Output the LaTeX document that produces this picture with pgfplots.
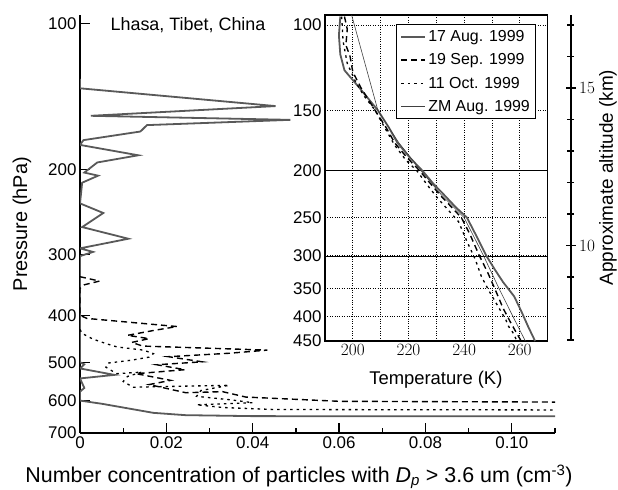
\documentclass[border=0pt]{standalone}
\usepackage{fontspec}
\setmainfont{Liberation Sans}
\usepackage{pgfplots}
\pgfplotsset{compat=1.18}

% line styles of the four soundings
\pgfplotsset{
  aug/.style={black!65, line width=1.8bp},
  sep/.style={black, line width=1.4bp, dash pattern=on 6bp off 4bp},
  oct/.style={black, line width=1.3bp, dash pattern=on 2.5bp off 4bp},
  zm/.style={black!75, line width=0.6bp},
}

\begin{document}
\begin{tikzpicture}
\path[use as bounding box] (0,0) rectangle (618bp,490bp);

% main panel: number concentration vs pressure
\begin{axis}[
  at={(80bp,57bp)}, anchor=south west, scale only axis,
  width=475bp, height=418bp,
  xmin=0, xmax=0.11,
  ymode=log, ymin=96, ymax=700, y dir=reverse,
  axis x line*=bottom, axis y line*=left,
  xtick pos=bottom, ytick pos=left,
  axis line style={-, line width=1.6bp},
  xtick={0,0.02,0.04,0.06,0.08,0.10},
  xticklabels={0,0.02,0.04,0.06,0.08,0.10},
  minor xtick={0.01,0.03,0.05,0.07,0.09,0.11},
  ytick={100,200,300,400,500,600,700},
  yticklabels={100,200,300,400,500,600,700},
  tick align=inside,
  major tick length=10bp, minor tick length=5bp,
  every tick/.style={black, line width=1.2bp},
  ticklabel style={font=\fontsize{17}{19}\selectfont},
  xlabel={Number concentration of particles with \textit{D}\textsubscript{\textit{p}} > 3.6 um (cm\textsuperscript{-3})},
  ylabel={Pressure (hPa)},
  xlabel style={font=\fontsize{21.5}{23}\selectfont,
    at={(axis description cs:0.461,-0.105)}, anchor=center},
  ylabel style={font=\fontsize{20}{22}\selectfont,
    at={(axis description cs:-0.122,0.5)}, anchor=center},
]
\addplot[aug] coordinates {
  (0,130) (0,136) (0.0453,148) (0.0025,155) (0.0487,158) (0.0155,162)
  (0.014,167) (0.0008,174) (0,178) (0.0135,187) (0.004,193.5) (0.001,203)
  (0.0042,206) (0.0005,213) (0,235) (0.0054,246) (0.0005,263) (0.0112,278)
  (0,291) (0.003,296) (0,302) (0,500) (0.001,505) (0,515) (0.008,531)
  (0,540) (0.001,565) (0,575) (0,600) (0.005,609) (0.017,636) (0.0244,643)
  (0.04,646) (0.15,647)
};
\addplot[sep] coordinates {
  (0,333) (0.0045,340) (0.001,346) (0,352) (0,400) (0.0016,406) (0.0225,422)
  (0.017,430) (0.011,440) (0.016,447) (0.012,455) (0.0145,463) (0.0434,472)
  (0.0347,479) (0.0205,487) (0.0283,499) (0.0178,506) (0.0243,518)
  (0.013,528) (0.021,545) (0.016,556) (0.0245,578) (0.033,575) (0.0384,590)
  (0.06,602) (0.15,606)
};
\addplot[oct] coordinates {
  (0,428) (0.0005,436) (0.003,448) (0.0065,459) (0.0086,465) (0.0147,472)
  (0.017,480) (0.016,488) (0.012,495) (0.0065,502) (0.006,512) (0.0085,528)
  (0.0143,524) (0.011,535) (0.01,548) (0.0123,563) (0.025,560) (0.0345,558)
  (0.028,572) (0.027,588) (0.035,598) (0.04,606) (0.027,612) (0.033,620)
  (0.045,626) (0.15,628)
};
\node[anchor=west, font=\fontsize{18}{20}\selectfont]
  at (axis description cs:0.057,0.976) {Lhasa, Tibet, China};
\end{axis}

% inset: temperature profiles
\begin{axis}[
  at={(325bp,149bp)}, anchor=south west, scale only axis,
  width=222.6bp, height=326bp,
  xmin=190, xmax=270,
  ymode=log, ymin=95.3, ymax=450, y dir=reverse,
  axis line style={line width=1.5bp},
  xtick={200,220,240,260}, minor xtick={210,230,250},
  ytick={100,150,200,250,300,350,400,450},
  yticklabels={100,150,200,250,300,350,400,450},
  grid=both,
  major grid style={black, dotted, line width=0.8bp},
  minor grid style={black, dotted, line width=0.8bp},
  extra y ticks={200,300}, extra y tick labels={},
  extra y tick style={grid=major, major grid style={black, solid, line width=0.7bp}},
  major tick length=0pt, minor tick length=0pt,
  ticklabel style={font=\fontsize{17}{19}\selectfont},
  xlabel={Temperature (K)},
  xlabel style={font=\fontsize{18.5}{20}\selectfont,
    at={(axis description cs:0.498,-0.12)}, anchor=center},
  legend style={at={(0.95,0.972)}, anchor=north east, draw=black,
    line width=1.2bp, font=\fontsize{16}{18}\selectfont, row sep=6.5bp,
    inner xsep=4bp, inner ysep=4bp},
  legend cell align=left,
  legend image code/.code={\draw[#1] (0bp,0bp) -- (24bp,0bp);},
]
\addplot[aug] coordinates {
  (195.5,96) (195,105) (195.5,115) (197,124) (202,134) (209,150) (213,163)
  (216,175) (220.5,188) (225,200) (229,213) (233,225) (237,238) (241,250)
  (244,270) (248,300) (251,320) (254,340) (258,364) (260.5,390) (263,420)
  (265.5,450)
};
\addplot[sep] coordinates {
  (197,96) (198,102) (197.5,110) (199,116) (200,125) (203,135) (208,150)
  (212,163) (215,175) (219.5,188) (224,200) (228,213) (231.5,225)
  (235.5,238) (239,250) (242,270) (245.5,300) (248.5,325) (251.5,356)
  (254,385) (257,415) (260.5,450)
};
\addplot[oct] coordinates {
  (196,96) (196.5,108) (198,120) (201,131) (204,140) (208,150) (212,165)
  (215,177) (219,190) (223,200) (227,215) (230.5,228) (234.5,242) (238,255)
  (241,280) (244,305) (246.2,331) (249,355) (252,380) (255,407) (256,420)
  (257.5,432) (259,450)
};
\addplot[zm] coordinates {
  (199.5,95) (209,150) (213,163) (216.5,175) (224.5,200) (232,225) (240,250)
  (247,300) (252.5,350) (257.5,400) (262,450)
};
\legend{17 Aug. 1999, 19 Sep. 1999, 11 Oct. 1999, ZM Aug. 1999}
\end{axis}

% right-hand altitude scale
\begin{axis}[
  at={(470.7bp,150bp)}, anchor=south west, scale only axis,
  width=100bp, height=325bp,
  xmin=0, xmax=1, ymin=7, ymax=17.32,
  axis x line=none, axis y line*=right,
  ytick pos=right, yticklabel pos=right,
  axis line style={-, line width=1.6bp},
  ytick={10,15}, minor ytick={7,8,9,11,12,13,14,16,17},
  tick align=center,
  major tick length=10bp, minor tick length=7bp,
  every tick/.style={black, line width=1.2bp},
  ticklabel style={font=\fontsize{17}{19}\selectfont},
  ylabel={Approximate altitude (km)},
  ylabel style={font=\fontsize{19}{21}\selectfont,
    at={(axis description cs:1.373,0.5)}, anchor=center},
]
\end{axis}
\end{tikzpicture}
\end{document}
